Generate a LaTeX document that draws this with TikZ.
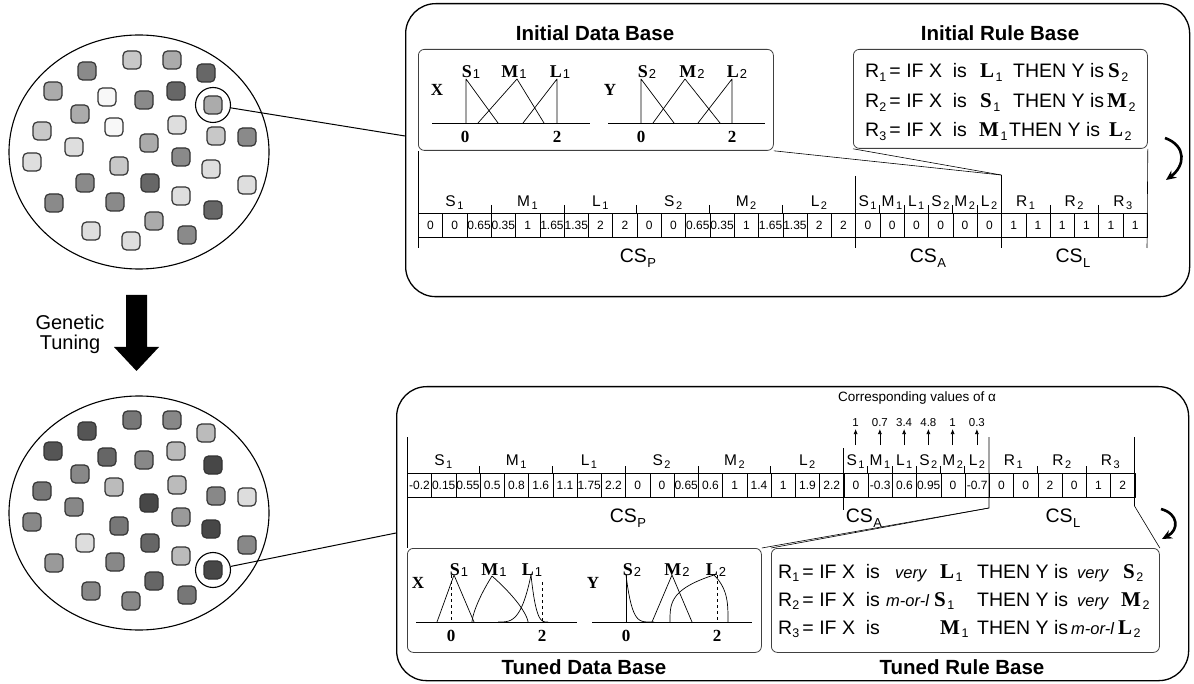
\documentclass[tikz,border=0pt]{standalone}
\usepackage{fontspec}
\setmainfont{Liberation Sans}
\newfontfamily\tserif{Liberation Serif}
\usetikzlibrary{shapes.geometric,arrows.meta}
\newcommand{\myfs}[1]{\fontsize{#1}{#1}\selectfont}
\newcommand{\rsub}[1]{\raisebox{-3.5pt}{\myfs{12.5}#1}}
\newcommand{\mterm}[2]{{\myfs{21}\tserif\bfseries #1}\kern1.5pt\rsub{#2}}
\newcommand{\mplab}[2]{{\myfs{18}\tserif\bfseries #1}\kern1pt\raisebox{-1pt}{\myfs{13}#2}}
\newcommand{\mglab}[2]{#1\kern1.5pt\raisebox{-3pt}{\myfs{11}#2}}
\newcommand{\mcs}[1]{CS\kern0.5pt\raisebox{-5pt}{\myfs{13}#1}}
\newcommand{\mmod}[1]{{\myfs{16.5}\itshape #1}}
% rising / falling parts of modified triangular functions
\newcommand{\mfrise}[7]{\draw[mf] (#1,#3) -- plot[domain=#7:1,samples=40] ({#1+(\x)^(#6)*(#2-#1)},{#3-#4*(\x)^(#5)});}
\newcommand{\mffall}[7]{\draw[mf] (#2,#3) -- plot[domain=#7:1,samples=40] ({#2-(\x)^(#6)*(#2-#1)},{#3-#4*(\x)^(#5)});}
\definecolor{gW}{HTML}{F8F8F8}
\definecolor{gA}{HTML}{DEDEDE}
\definecolor{gB}{HTML}{C8C8C8}
\definecolor{gC}{HTML}{ABABAB}
\definecolor{gD}{HTML}{8A8A8A}
\definecolor{gE}{HTML}{676767}
\definecolor{b44}{HTML}{474747}
\definecolor{b55}{HTML}{555555}
\definecolor{b66}{HTML}{666666}
\definecolor{b77}{HTML}{777777}
\definecolor{b88}{HTML}{888888}
\definecolor{b99}{HTML}{9A9A9A}
\definecolor{bBB}{HTML}{BBBBBB}
\definecolor{bDD}{HTML}{DDDDDD}
\begin{document}
\begin{tikzpicture}[x=1pt,y=-1pt,line join=round,
  sq/.style={draw=black!80, line width=1.2pt, rounded corners=4.5pt, minimum size=18pt, inner sep=0pt},
  pop/.style={ellipse, draw, line width=1.1pt, minimum width=260pt, minimum height=234pt, inner sep=0pt},
  hil/.style={circle, draw, line width=1.1pt, minimum size=35pt, inner sep=0pt},
  panel/.style={draw, line width=1.3pt, rounded corners=30pt, inner sep=0pt, anchor=north west},
  ibox/.style={draw=black!75, line width=0.8pt, rounded corners=6pt, inner sep=0pt, anchor=north west},
  cell/.style={draw, line width=0.6pt, minimum width=24.3pt, minimum height=24pt, inner sep=0pt, anchor=west, font=\myfs{12}},
  cellb/.style={cell, minimum width=24.25pt},
  glab/.style={font=\myfs{15.5}, inner sep=0pt, anchor=base},
  cslab/.style={font=\myfs{19.5}, inner sep=0pt, anchor=base},
  title/.style={font=\myfs{20.5}\bfseries, inner sep=0pt},
  rtxt/.style={font=\myfs{19.5}, anchor=base west, inner sep=0pt},
  mf/.style={line width=0.7pt},
  thinl/.style={line width=0.6pt},
  plab/.style={anchor=base, inner sep=0pt},
  axlab/.style={font=\myfs{17}\tserif\bfseries, anchor=base, inner sep=0pt},
  bendarrow/.style={line width=2.6pt, -{Stealth[length=10pt,width=9pt]}},
  alarrow/.style={line width=0.7pt, -{Latex[length=5pt,width=4pt]}}]
\fill[white] (0,0) rectangle (1194,684);
\useasboundingbox (0,0) rectangle (1194,684);

% ---------- populations ----------
\node[pop] (popA) at (139,152) {};
\node[pop] (popB) at (139,513) {};
\foreach \i/\x/\y/\c/\d in {1/132/60/gB/b77, 2/172/60/gC/b88, 3/87/71/gD/b55, 4/206/73/gE/bBB,
  5/53/91/gC/b55, 6/107/97/gW/b66, 7/144/100/gD/b88, 8/176/91/gE/bBB, 9/213/105/gC/b44,
  10/80/114/gC/b88, 11/42/131/gB/b77, 12/114/127/gW/bBB, 13/177/125/gA/bBB, 14/216/136/gB/b88,
  15/247/137/gD/bDD, 16/74/147/gA/b88, 17/149/143/gC/b44, 18/32/162/gA/b88, 19/119/166/gB/b77,
  20/181/157/gD/b99, 21/211/169/gA/b44, 22/85/183/gD/bDD, 23/150/183/gE/b66, 24/247/185/gA/b88,
  25/54/203/gD/b99, 26/115/202/gD/b88, 27/181/196/gA/bBB, 28/213/210/gE/b44, 29/154/221/gC/b66,
  30/91/231/gA/b88, 31/131/241/gA/b88, 32/187/235/gD/b77}{
  \node[sq, fill=\c] (t\i) at (\x,\y) {};
  \node[sq, fill=\d] (b\i) at (\x,\y+360) {};
}
\node[hil] (hA) at (t9) {};
\node[hil] (hB) at (b28) {};

% ---------- genetic tuning arrow ----------
\fill (126,295) -- (147,295) -- (147,347) -- (159,347) -- (136.5,371) -- (114,347) -- (126,347) -- cycle;
\node[font=\myfs{20}] (gt1) at (70,322) {Genetic};
\node[font=\myfs{20}] (gt2) at (70,344) {Tuning};

% ---------- panels ----------
\node[panel, minimum width=784pt, minimum height=293pt] (panA) at (405,3) {};
\node[panel, minimum width=792pt, minimum height=294pt] (panB) at (396,386) {};
\coordinate (pA) at (405,136);
\coordinate (pB) at (396,533);
\draw[line width=1pt] (hA) -- (pA);
\draw[line width=1pt] (hB) -- (pB);

% ================= TOP PANEL =================
\node[title] (tdA) at (595,33) {Initial Data Base};
\node[title] (trA) at (1000,33) {Initial Rule Base};
\node[ibox, minimum width=355pt, minimum height=101pt] (db) at (418,49) {};
\node[ibox, minimum width=294pt, minimum height=99pt] (rb) at (853,49) {};

% initial membership functions
\draw[mf] (432,123) -- (590,123);
\draw[mf] (466,123) -- (466,79) -- (498,123);
\draw[mf] (478,123) -- (517,79) -- (544,123);
\draw[mf] (523,123) -- (557,79) -- (557,123);
\draw[mf] (608,123) -- (765,123);
\draw[mf] (641,123) -- (641,79) -- (674,123);
\draw[mf] (653,123) -- (685,79) -- (720,123);
\draw[mf] (698,123) -- (732,79) -- (732,123);
\node[axlab] (xA) at (437,96) {X};
\node[axlab] (yA) at (610,96) {Y};
\node[plab] (lS1A) at (471,78) {\mplab{S}{1}};
\node[plab] (lM1A) at (514,78) {\mplab{M}{1}};
\node[plab] (lL1A) at (560,78) {\mplab{L}{1}};
\node[plab] (lS2A) at (647,78) {\mplab{S}{2}};
\node[plab] (lM2A) at (692,78) {\mplab{M}{2}};
\node[plab] (lL2A) at (737,78) {\mplab{L}{2}};
\node[axlab] (z1A) at (465,143) {0};
\node[axlab] (w1A) at (557,143) {2};
\node[axlab] (z2A) at (641,143) {0};
\node[axlab] (w2A) at (732,143) {2};

% initial rules
\node[rtxt] (ra1) at (865,78) {R\rsub{1}\,= IF X\ \ is};
\node[rtxt] (ra2) at (865,108) {R\rsub{2}\,= IF X\ \ is};
\node[rtxt] (ra3) at (865,137) {R\rsub{3}\,= IF X\ \ is};
\node[rtxt] (rb1) at (980,78) {\mterm{L}{1}};
\node[rtxt] (rb2) at (980,108) {\mterm{S}{1}};
\node[rtxt] (rb3) at (979,137) {\mterm{M}{1}};
\node[rtxt] (rc1) at (1013,78) {THEN Y is};
\node[rtxt] (rc2) at (1013,108) {THEN Y is};
\node[rtxt] (rc3) at (1009,137) {THEN Y is};
\node[rtxt] (rd1) at (1108,78) {\mterm{S}{2}};
\node[rtxt] (rd2) at (1107,108) {\mterm{M}{2}};
\node[rtxt] (rd3) at (1109,137) {\mterm{L}{2}};

% initial chromosome
\foreach \v [count=\i] in {0,0,0.65,0.35,1,1.65,1.35,2,2,0,0,0.65,0.35,1,1.65,1.35,2,2,0,0,0,0,0,0,1,1,1,1,1,1}
  \node[cell] (a\i) at ({418+(\i-1)*24.3},225) {\v};
\foreach \n/\s [count=\g from 0] in {S/1,M/1,L/1,S/2,M/2,L/2}{
  \node[glab] (gpA\g) at ({418+(3*\g+1.5)*24.3},207) {\mglab{\n}{\s}};
  \node[glab] (gaA\g) at ({855.4+(\g+0.5)*24.3},207) {\mglab{\n}{\s}};
}
\foreach \s [count=\g from 0] in {1,2,3}
  \node[glab] (glA\g) at ({1001.2+(2*\g+1)*24.3},207) {\mglab{R}{\s}};
\foreach \k in {3,6,9,12,15,19,20,21,22,23,26,28}
  \draw[thinl] ({418+\k*24.3},205) -- ({418+\k*24.3},213);
\coordinate (lAb) at (418,248);
\coordinate (mAt) at (855.4,176);
\coordinate (mAb) at (855.4,248);
\coordinate (cA) at (1001.2,175);
\coordinate (cAb) at (1001.2,248);
\coordinate (rAb) at (1147,248);
\draw[thinl] (db.south west) -- (lAb);
\draw[thinl] (mAt) -- (mAb);
\draw[thinl] (db.south east) -- (cA);
\draw[thinl] (rb.south west) -- (cA);
\draw[thinl] (cA) -- (cAb);
\draw[thinl] (rb.south east) -- (rAb);
\node[cslab] (csPA) at (638,263) {\mcs{P}};
\node[cslab] (csAA) at (928,263) {\mcs{A}};
\node[cslab] (csLA) at (1073,263) {\mcs{L}};

\coordinate (baS) at (1165,138);
\coordinate (baE) at (1166,180);
\draw[bendarrow] (baS) .. controls (1187,146) and (1185,166) .. (baE);

% ================= BOTTOM PANEL =================
\foreach \v [count=\i] in {-0.2,0.15,0.55,0.5,0.8,1.6,1.1,1.75,2.2,0,0,0.65,0.6,1,1.4,1,1.9,2.2,0,-0.3,0.6,0.95,0,-0.7,0,0,2,0,1,2}
  \node[cellb] (c\i) at ({407+(\i-1)*24.25},485) {\v};
\foreach \n/\s [count=\g from 0] in {S/1,M/1,L/1,S/2,M/2,L/2}{
  \node[glab] (gpB\g) at ({407+(3*\g+1.5)*24.25},465) {\mglab{\n}{\s}};
  \node[glab] (gaB\g) at ({843.5+(\g+0.5)*24.25},465) {\mglab{\n}{\s}};
}
\foreach \s [count=\g from 0] in {1,2,3}
  \node[glab] (glB\g) at ({989+(2*\g+1)*24.25},465) {\mglab{R}{\s}};
\foreach \k in {3,6,9,12,15,19,20,21,22,23,26,28}
  \draw[thinl] ({407+\k*24.25},466) -- ({407+\k*24.25},473);

% alpha values
\node[font=\myfs{13.5}] (alt) at (917,398) {Corresponding values of α};
\foreach \a [count=\k from 0] in {1,0.7,3.4,4.8,1,0.3}{
  \node[font=\myfs{11.5}] (av\k) at ({843.5+(\k+0.5)*24.25},423) {\a};
  \coordinate (al\k) at ({843.5+(\k+0.5)*24.25},445);
  \coordinate (ah\k) at ({843.5+(\k+0.5)*24.25},429);
  \draw[alarrow] (al\k) -- (ah\k);
}

\node[title] (tdB) at (584,667) {Tuned Data Base};
\node[title] (trB) at (962,667) {Tuned Rule Base};
\node[ibox, minimum width=354pt, minimum height=104pt] (tdb) at (407,548) {};
\node[ibox, minimum width=388pt, minimum height=104pt] (trb) at (771,548) {};

\coordinate (lBt) at (407,437);
\coordinate (mBt) at (843.5,448);
\coordinate (mBb) at (843.5,510);
\coordinate (cBt) at (989,437);
\coordinate (cB) at (989,508);
\coordinate (rBt) at (1134.5,437);
\coordinate (cC) at (1134.5,506);
\draw[thinl] (lBt) -- (tdb.north west);
\draw[thinl] (mBt) -- (mBb);
\draw[thinl] (cBt) -- (cB) -- (tdb.north east);
\draw[thinl] (cB) -- (trb.north west);
\draw[thinl] (rBt) -- (cC) -- (trb.north east);
\node[cslab] (csPB) at (628,522) {\mcs{P}};
\node[cslab] (csAB) at (864,522) {\mcs{A}};
\node[cslab] (csLB) at (1063,522) {\mcs{L}};

\coordinate (bbS) at (1161,509);
\coordinate (bbE) at (1162,539);
\draw[bendarrow] (bbS) .. controls (1179,514) and (1179,530) .. (bbE);

% tuned membership functions, X
\draw[mf] (416,622) -- (577,622);
\draw[mf] (437,622) -- (454,575) -- (474,622);
\draw[mf, dashed, line width=1pt] (451,575) -- (451,622);
\mfrise{472}{492}{622}{46}{2.1}{3}{0.02}
\mffall{492}{528}{622}{46}{2.1}{3}{0.02}
\mfrise{498}{531}{622}{47}{3.4}{1}{0.1}
\mffall{531}{548}{622}{47}{3.4}{1}{0.1}
\draw[mf, dashed, line width=1pt] (542,582) -- (542,622);
% tuned membership functions, Y
\draw[mf] (592,622) -- (752,622);
\draw[mf] (626,622) -- (626,575);
\mffall{626}{654}{622}{47}{4.8}{1}{0.16}
\draw[mf] (652,622) -- (672,575) -- (692,622);
\mfrise{670}{714}{622}{47}{0.9}{3}{0.02}
\mffall{714}{728}{622}{47}{0.9}{3}{0.02}
\draw[mf, dashed, line width=1pt] (717,575) -- (717,622);
\node[axlab] (xB) at (418,588) {X};
\node[axlab] (yB) at (593,588) {Y};
\node[plab] (lS1B) at (459,575) {\mplab{S}{1}};
\node[plab] (lM1B) at (494,575) {\mplab{M}{1}};
\node[plab] (lL1B) at (532,575) {\mplab{L}{1}};
\node[plab] (lS2B) at (632,575) {\mplab{S}{2}};
\node[plab] (lM2B) at (677,575) {\mplab{M}{2}};
\node[plab] (lL2B) at (716,575) {\mplab{L}{2}};
\node[axlab] (z1B) at (451,641) {0};
\node[axlab] (w1B) at (542,641) {2};
\node[axlab] (z2B) at (626,641) {0};
\node[axlab] (w2B) at (717,641) {2};

% tuned rules
\node[rtxt] (ta1) at (778,578) {R\rsub{1}\,= IF X\ \ is};
\node[rtxt] (ta2) at (778,606) {R\rsub{2}\,= IF X\ \ is};
\node[rtxt] (ta3) at (778,634) {R\rsub{3}\,= IF X\ \ is};
\node[rtxt] (tm1) at (895,578) {\mmod{very}};
\node[rtxt] (tm2) at (886,606) {\mmod{m-or-l}};
\node[rtxt] (tb1) at (940,578) {\mterm{L}{1}};
\node[rtxt] (tb2) at (934,606) {\mterm{S}{1}};
\node[rtxt] (tb3) at (940,634) {\mterm{M}{1}};
\node[rtxt] (tc1) at (977,578) {THEN Y is};
\node[rtxt] (tc2) at (977,606) {THEN Y is};
\node[rtxt] (tc3) at (977,634) {THEN Y is};
\node[rtxt] (tn1) at (1077,578) {\mmod{very}};
\node[rtxt] (tn2) at (1077,606) {\mmod{very}};
\node[rtxt] (tn3) at (1071,634) {\mmod{m-or-l}};
\node[rtxt] (td1) at (1123,578) {\mterm{S}{2}};
\node[rtxt] (td2) at (1121,606) {\mterm{M}{2}};
\node[rtxt] (td3) at (1118,634) {\mterm{L}{2}};
\end{tikzpicture}
\end{document}
